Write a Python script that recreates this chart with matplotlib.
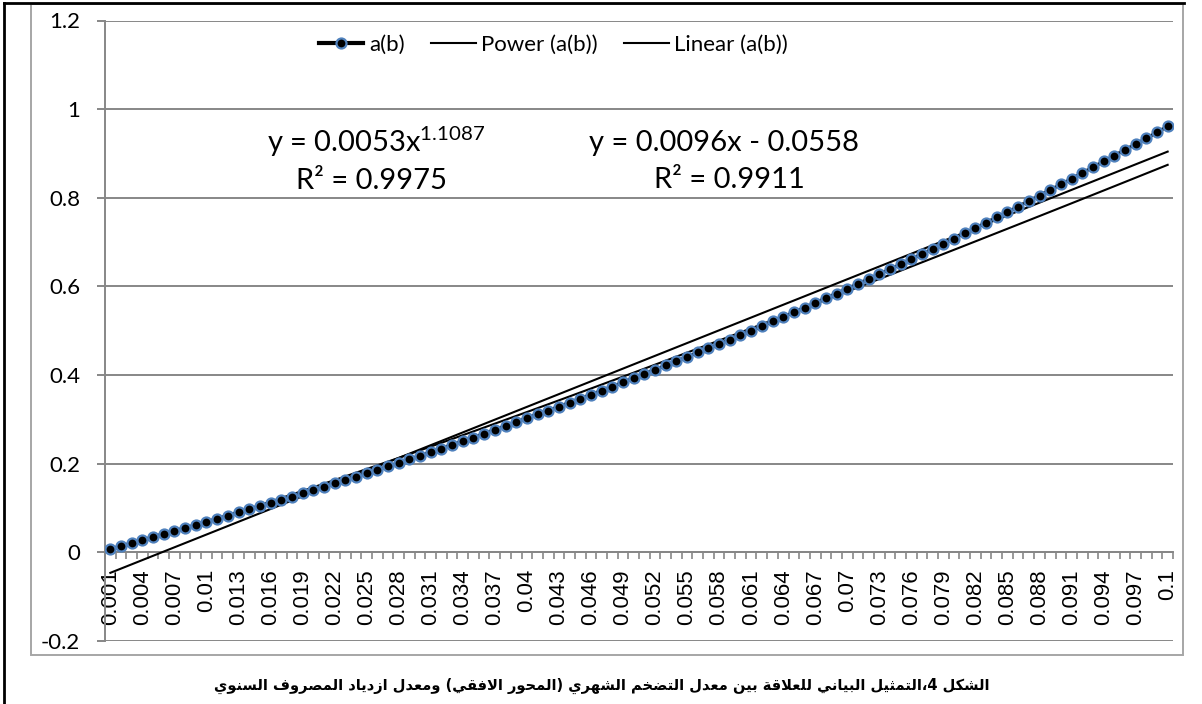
import numpy as np
import matplotlib.pyplot as plt
from matplotlib.lines import Line2D
from matplotlib.patches import Rectangle

# categories: monthly inflation rate b
b = np.round(np.arange(1, 101) * 0.001, 3)

# a(b), one value per category
a_b = [
    0.008, 0.014, 0.021, 0.028, 0.035, 0.042, 0.049, 0.055, 0.062, 0.069,
    0.076, 0.083, 0.090, 0.097, 0.104, 0.112, 0.119, 0.126, 0.134, 0.141,
    0.148, 0.156, 0.163, 0.171, 0.179, 0.186, 0.194, 0.202, 0.210, 0.218,
    0.226, 0.234, 0.243, 0.251, 0.259, 0.268, 0.277, 0.285, 0.294, 0.303,
    0.312, 0.320, 0.329, 0.338, 0.347, 0.356, 0.365, 0.374, 0.384, 0.393,
    0.403, 0.412, 0.422, 0.431, 0.441, 0.451, 0.460, 0.470, 0.480, 0.490,
    0.500, 0.510, 0.521, 0.531, 0.542, 0.552, 0.563, 0.574, 0.584, 0.595,
    0.606, 0.617, 0.628, 0.639, 0.650, 0.662, 0.673, 0.685, 0.696, 0.708,
    0.720, 0.732, 0.744, 0.756, 0.768, 0.780, 0.793, 0.805, 0.818, 0.830,
    0.843, 0.856, 0.869, 0.882, 0.895, 0.908, 0.921, 0.934, 0.948, 0.961,
]

# trendline coefficients as printed on the chart
power_coef, power_exp, power_r2 = 0.0053, 1.1087, 0.9975
lin_slope, lin_icpt, lin_r2 = 0.0096, -0.0558, 0.9911

y_ticks = [-0.2, 0, 0.2, 0.4, 0.6, 0.8, 1, 1.2]
y_labels = ["-0.2", "0", "0.2", "0.4", "0.6", "0.8", "1", "1.2"]

caption = "الشكل 4،التمثيل البياني للعلاقة بين معدل التضخم الشهري (المحور الافقي) ومعدل ازدياد المصروف السنوي"

# --- minimal arabic shaping (matplotlib has no bidi / joining) ---
FORMS = {
    'ا': ('\ufe8d', '\ufe8e', None, None),
    'ب': ('\ufe8f', '\ufe90', '\ufe91', '\ufe92'),
    'ة': ('\ufe93', '\ufe94', None, None),
    'ت': ('\ufe95', '\ufe96', '\ufe97', '\ufe98'),
    'ث': ('\ufe99', '\ufe9a', '\ufe9b', '\ufe9c'),
    'ج': ('\ufe9d', '\ufe9e', '\ufe9f', '\ufea0'),
    'ح': ('\ufea1', '\ufea2', '\ufea3', '\ufea4'),
    'خ': ('\ufea5', '\ufea6', '\ufea7', '\ufea8'),
    'د': ('\ufea9', '\ufeaa', None, None),
    'ذ': ('\ufeab', '\ufeac', None, None),
    'ر': ('\ufead', '\ufeae', None, None),
    'ز': ('\ufeaf', '\ufeb0', None, None),
    'س': ('\ufeb1', '\ufeb2', '\ufeb3', '\ufeb4'),
    'ش': ('\ufeb5', '\ufeb6', '\ufeb7', '\ufeb8'),
    'ص': ('\ufeb9', '\ufeba', '\ufebb', '\ufebc'),
    'ض': ('\ufebd', '\ufebe', '\ufebf', '\ufec0'),
    'ع': ('\ufec9', '\ufeca', '\ufecb', '\ufecc'),
    'ف': ('\ufed1', '\ufed2', '\ufed3', '\ufed4'),
    'ق': ('\ufed5', '\ufed6', '\ufed7', '\ufed8'),
    'ك': ('\ufed9', '\ufeda', '\ufedb', '\ufedc'),
    'ل': ('\ufedd', '\ufede', '\ufedf', '\ufee0'),
    'م': ('\ufee1', '\ufee2', '\ufee3', '\ufee4'),
    'ن': ('\ufee5', '\ufee6', '\ufee7', '\ufee8'),
    'ه': ('\ufee9', '\ufeea', '\ufeeb', '\ufeec'),
    'و': ('\ufeed', '\ufeee', None, None),
    'ي': ('\ufef1', '\ufef2', '\ufef3', '\ufef4'),
}


def shape_arabic(text):
    res = []
    i, n = 0, len(text)
    while i < n:
        c = text[i]
        if c not in FORMS:
            res.append(c)
            i += 1
            continue
        prev = text[i - 1] if i > 0 else ''
        joins_prev = prev in FORMS and FORMS[prev][2] is not None
        if c == 'ل' and i + 1 < n and text[i + 1] == 'ا':
            res.append('\ufefc' if joins_prev else '\ufefb')
            i += 2
            continue
        nxt = text[i + 1] if i + 1 < n else ''
        iso, fin, ini, med = FORMS[c]
        joins_next = ini is not None and nxt in FORMS
        if joins_prev and joins_next:
            res.append(med)
        elif joins_prev:
            res.append(fin)
        elif joins_next:
            res.append(ini)
        else:
            res.append(iso)
        i += 1
    vis = ''.join(res)[::-1]
    return vis.translate(str.maketrans('()', ')('))


plt.rcParams['mathtext.fontset'] = 'custom'
plt.rcParams['mathtext.rm'] = 'Lato'

W, H = 1202, 704
fig = plt.figure(figsize=(W / 100, H / 100), dpi=100)
ax = fig.add_axes([105 / W, 1 - 641 / H, 1068 / W, 620.5 / H])

grey = '#878787'
x = np.arange(1, len(a_b) + 1)

ax.plot(x, a_b, color='black', lw=2.4, marker='o', ms=7.2, mfc='black',
        mec='#4F81BD', mew=1.6, zorder=4, label='a(b)')
ax.plot(x, power_coef * x ** power_exp, color='black', lw=1.5, zorder=3,
        label='Power (a(b))')
ax.plot(x, lin_slope * x + lin_icpt, color='black', lw=1.5, zorder=3,
        label='Linear (a(b))')

ax.set_xlim(0.5, len(a_b) + 0.5)
ax.set_ylim(-0.2, 1.2)
ax.set_yticks(y_ticks, y_labels)
ax.yaxis.grid(True, color=grey, lw=1.4)
ax.set_axisbelow(True)

for s in ['top', 'right']:
    ax.spines[s].set_visible(False)
ax.spines['left'].set_color(grey)
ax.spines['left'].set_linewidth(1.4)
ax.spines['bottom'].set_position(('data', 0))
ax.spines['bottom'].set_color(grey)
ax.spines['bottom'].set_linewidth(1.4)

ax.set_xticks(x[::3], [f"{v:g}" for v in b[::3]], rotation=90,
              fontfamily='Liberation Sans', fontsize=16)
ax.set_xticks(np.arange(0.5, len(a_b) + 1, 1), minor=True)
ax.tick_params(axis='x', which='major', length=0, pad=12)
ax.tick_params(axis='x', which='minor', length=4.8, color=grey, width=1.2)
ax.tick_params(axis='y', length=5.8, color=grey, width=1.4, pad=12,
               labelsize=16)
for t in ax.get_yticklabels():
    t.set_fontfamily('Lato')

leg = ax.legend(loc='center', bbox_to_anchor=(0.42, 0.9605), ncol=3,
                frameon=False, handlelength=2.0, handletextpad=0.25,
                columnspacing=1.2, prop={'family': 'Lato', 'size': 16})
leg.get_lines()[0].set_linewidth(3)

# trendline equations
fig.text(376 / W, 1 - 142 / H, 'y = 0.0053x$^{\\mathrm{1.1087}}$',
         ha='center', va='center', fontfamily='Lato', fontsize=21)
fig.text(372 / W, 1 - 181 / H, f'R² = {power_r2}', ha='center', va='center',
         fontfamily='Lato', fontsize=21)
fig.text(724 / W, 1 - 143 / H, f'y = {lin_slope}x - {abs(lin_icpt)}',
         ha='center', va='center', fontfamily='Lato', fontsize=21)
fig.text(729 / W, 1 - 180 / H, f'R² = {lin_r2}', ha='center', va='center',
         fontfamily='Lato', fontsize=21)

# chart border and page border
fig.add_artist(Rectangle((31 / W, 1 - 655 / H), 1152 / W, 651 / H,
                         transform=fig.transFigure, fill=False,
                         edgecolor='#A6A6A6', lw=1.4))
fig.add_artist(Line2D([4 / W, 1184 / W], [1 - 3 / H, 1 - 3 / H],
                      transform=fig.transFigure, color='black', lw=2))
fig.add_artist(Line2D([4 / W, 4 / W], [0, 1 - 3 / H],
                      transform=fig.transFigure, color='black', lw=2))

fig.text(602 / W, 1 - 686 / H, shape_arabic(caption), ha='center',
         va='center', family=['DejaVu Sans'], weight='bold', fontsize=10.5)

fig.savefig('out.png', dpi=100)
